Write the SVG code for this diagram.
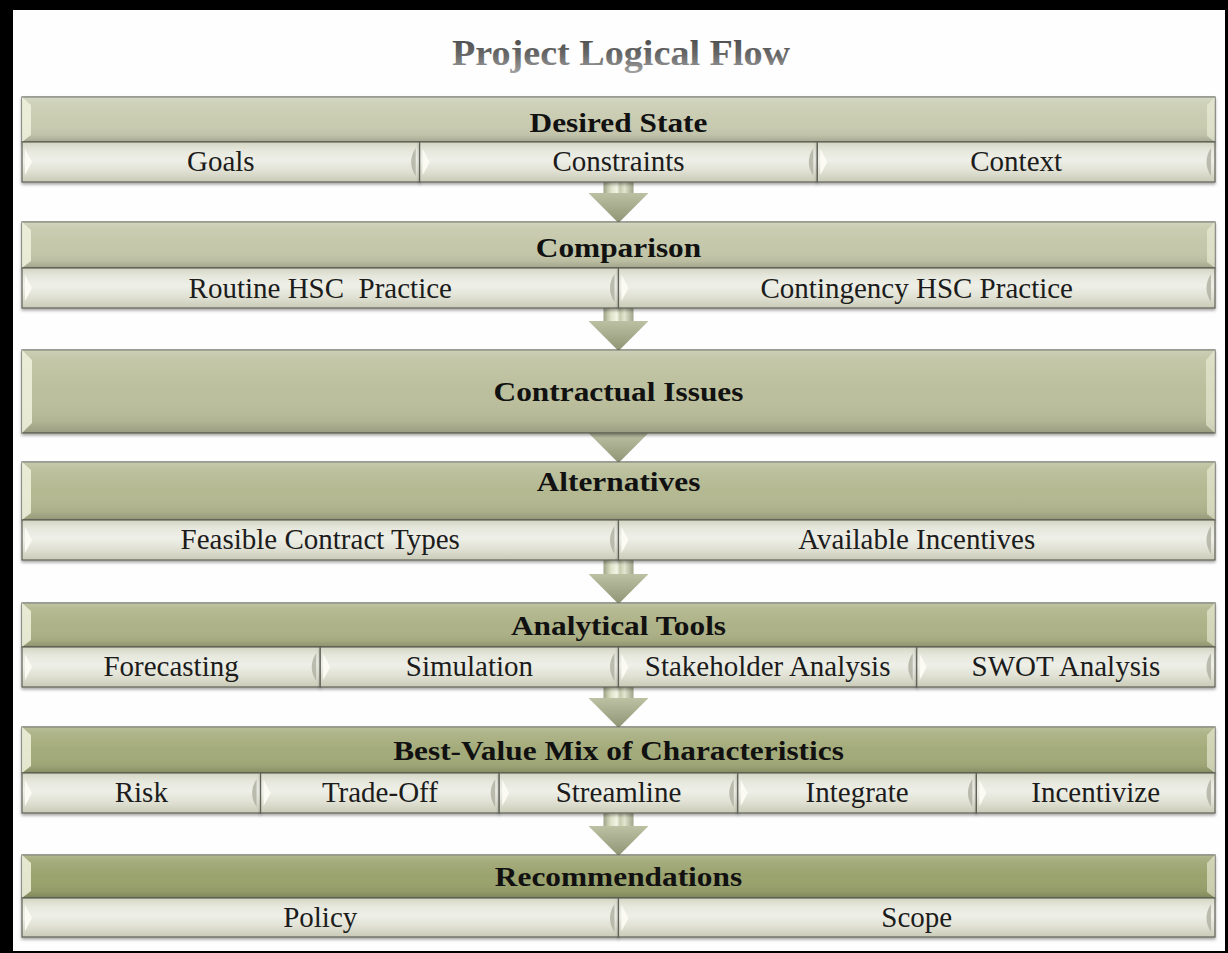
<svg xmlns="http://www.w3.org/2000/svg" xmlns:xlink="http://www.w3.org/1999/xlink" width="1228" height="953" viewBox="0 0 1228 953">
  <style>
    .hdr { stroke: #5e6255; stroke-width: 1.2; filter: url(#drop); }
    .shade { fill: url(#hdrShade); }
    .bev-l { fill: #f1f2de; opacity: 0.85; }
    .bev-r { fill: #eef0da; opacity: 0.6; }
    .cell { fill: url(#cellGrad); stroke: #5f6157; stroke-width: 1.2; filter: url(#drop); }
    .tri { fill: #fbfbf4; }
    .crs { fill: #a9ab9b; opacity: 0.75; }
    .hdr-t { font-family: "Liberation Serif", "Times New Roman", serif; font-weight: bold; font-size: 28px; fill: #111; text-anchor: middle; }
    .sub-t { font-family: "Liberation Serif", "Times New Roman", serif; font-size: 29px; fill: #1c1c1c; text-anchor: middle; }
    .title-t { font-family: "Liberation Serif", "Times New Roman", serif; font-weight: bold; font-size: 35px; fill: url(#titleGrad); text-anchor: middle; }
  </style>
  <defs>
    <filter id="drop" x="-5%" y="-20%" width="110%" height="150%">
      <feDropShadow dx="0" dy="2" stdDeviation="1.5" flood-color="#000" flood-opacity="0.35"/>
    </filter>
    <linearGradient id="hdrShade" x1="0" y1="0" x2="0" y2="1">
      <stop offset="0" stop-color="#fff" stop-opacity="0.25"/>
      <stop offset="0.12" stop-color="#fff" stop-opacity="0.12"/>
      <stop offset="0.5" stop-color="#fff" stop-opacity="0"/>
      <stop offset="0.85" stop-color="#000" stop-opacity="0.05"/>
      <stop offset="1" stop-color="#000" stop-opacity="0.18"/>
    </linearGradient>
    <linearGradient id="cellGrad" x1="0" y1="0" x2="0" y2="1">
      <stop offset="0" stop-color="#d3d5c2"/>
      <stop offset="0.2" stop-color="#e6e7dc"/>
      <stop offset="0.45" stop-color="#eeefe7"/>
      <stop offset="0.7" stop-color="#e2e3d6"/>
      <stop offset="1" stop-color="#c9cbb7"/>
    </linearGradient>
    <linearGradient id="shaftGrad" x1="0" y1="0" x2="1" y2="0">
      <stop offset="0" stop-color="#9da287"/>
      <stop offset="0.25" stop-color="#dfe3c8"/>
      <stop offset="0.45" stop-color="#f3f5e6"/>
      <stop offset="0.55" stop-color="#c6cbad"/>
      <stop offset="0.7" stop-color="#e2e6cf"/>
      <stop offset="1" stop-color="#9da287"/>
    </linearGradient>
    <linearGradient id="headGrad" x1="0" y1="0" x2="0" y2="1">
      <stop offset="0" stop-color="#bcc1a3"/>
      <stop offset="1" stop-color="#8e9474"/>
    </linearGradient>
    <linearGradient id="titleGrad" x1="0" y1="0" x2="0" y2="1">
      <stop offset="0" stop-color="#454545"/>
      <stop offset="0.55" stop-color="#696969"/>
      <stop offset="1" stop-color="#a0a0a0"/>
    </linearGradient>
    <!-- down arrow, tip at the origin -->
    <g id="arrow">
      <rect x="-15" y="-52" width="30" height="23" fill="url(#shaftGrad)"/>
      <path d="M-30 -30 L30 -30 L0 0 Z" fill="url(#headGrad)"/>
    </g>
    <!-- bevel marks of a 40px-high cell -->
    <path id="tri" class="tri" d="M3 7 L10 20 L3 33 Z"/>
    <path id="crs" class="crs" d="M-4 6 Q-13 20 -4 34 Z"/>
  </defs>

  <!-- frame -->
  <rect width="1228" height="953" fill="#000"/>
  <rect x="13" y="10" width="1212" height="941" fill="#fefefe"/>

  <g id="title">
    <text class="title-t" transform="translate(621 65) scale(1.09 1)">Project Logical Flow</text>
  </g>

  <g id="connectors">
    <use xlink:href="#arrow" x="618.5" y="223"/>
    <use xlink:href="#arrow" x="618.5" y="351"/>
    <use xlink:href="#arrow" x="618.5" y="463"/>
    <use xlink:href="#arrow" x="618.5" y="604"/>
    <use xlink:href="#arrow" x="618.5" y="728"/>
    <use xlink:href="#arrow" x="618.5" y="856"/>
  </g>

  <g id="desired-state">
    <rect class="hdr" x="22" y="97" width="1193" height="45" fill="#c9ccb1"/>
    <rect class="shade" x="22" y="97" width="1193" height="45"/>
    <path class="bev-l" d="M22 97 L31 105 L31 135 L22 142 Z"/>
    <path class="bev-r" d="M1215 97 L1207 105 L1207 136 L1215 142 Z"/>
    <text class="hdr-t" transform="translate(618.5 132) scale(1.12 1)">Desired State</text>
    <rect class="cell" x="22" y="142" width="397.67" height="40"/>
    <rect class="cell" x="419.67" y="142" width="397.66" height="40"/>
    <rect class="cell" x="817.33" y="142" width="397.67" height="40"/>
    <use xlink:href="#tri" x="22" y="142"/>
    <use xlink:href="#tri" x="419.67" y="142"/>
    <use xlink:href="#tri" x="817.33" y="142"/>
    <use xlink:href="#crs" x="419.67" y="142"/>
    <use xlink:href="#crs" x="817.33" y="142"/>
    <use xlink:href="#crs" x="1215" y="142"/>
    <text class="sub-t" x="220.8" y="171">Goals</text>
    <text class="sub-t" x="618.5" y="171">Constraints</text>
    <text class="sub-t" x="1016.2" y="171">Context</text>
  </g>

  <g id="comparison">
    <rect class="hdr" x="22" y="222" width="1193" height="46" fill="#c4c7a9"/>
    <rect class="shade" x="22" y="222" width="1193" height="46"/>
    <path class="bev-l" d="M22 222 L31 230 L31 261 L22 268 Z"/>
    <path class="bev-r" d="M1215 222 L1207 230 L1207 262 L1215 268 Z"/>
    <text class="hdr-t" transform="translate(618.5 257) scale(1.12 1)">Comparison</text>
    <rect class="cell" x="22" y="268" width="596.5" height="40"/>
    <rect class="cell" x="618.5" y="268" width="596.5" height="40"/>
    <use xlink:href="#tri" x="22" y="268"/>
    <use xlink:href="#tri" x="618.5" y="268"/>
    <use xlink:href="#crs" x="618.5" y="268"/>
    <use xlink:href="#crs" x="1215" y="268"/>
    <text class="sub-t" x="320.25" y="297.5" xml:space="preserve">Routine HSC  Practice</text>
    <text class="sub-t" x="916.75" y="297.5">Contingency HSC Practice</text>
  </g>

  <g id="contractual-issues">
    <rect class="hdr" x="22" y="350" width="1193" height="83" fill="#bbbf9c"/>
    <rect class="shade" x="22" y="350" width="1193" height="83"/>
    <path class="bev-l" d="M22 350 L32 360 L32 423 L22 433 Z"/>
    <path class="bev-r" d="M1215 350 L1206 360 L1206 425 L1215 433 Z"/>
    <text class="hdr-t" transform="translate(618.5 401) scale(1.12 1)">Contractual Issues</text>
  </g>

  <g id="alternatives">
    <rect class="hdr" x="22" y="462" width="1193" height="58" fill="#b4b992"/>
    <rect class="shade" x="22" y="462" width="1193" height="58"/>
    <path class="bev-l" d="M22 462 L31 470 L31 513 L22 520 Z"/>
    <path class="bev-r" d="M1215 462 L1207 470 L1207 514 L1215 520 Z"/>
    <text class="hdr-t" transform="translate(618.5 491) scale(1.12 1)">Alternatives</text>
    <rect class="cell" x="22" y="520" width="596.5" height="40"/>
    <rect class="cell" x="618.5" y="520" width="596.5" height="40"/>
    <use xlink:href="#tri" x="22" y="520"/>
    <use xlink:href="#tri" x="618.5" y="520"/>
    <use xlink:href="#crs" x="618.5" y="520"/>
    <use xlink:href="#crs" x="1215" y="520"/>
    <text class="sub-t" x="320.25" y="549">Feasible Contract Types</text>
    <text class="sub-t" x="916.75" y="549">Available Incentives</text>
  </g>

  <g id="analytical-tools">
    <rect class="hdr" x="22" y="603" width="1193" height="44" fill="#adb287"/>
    <rect class="shade" x="22" y="603" width="1193" height="44"/>
    <path class="bev-l" d="M22 603 L31 611 L31 640 L22 647 Z"/>
    <path class="bev-r" d="M1215 603 L1207 611 L1207 641 L1215 647 Z"/>
    <text class="hdr-t" transform="translate(618.5 634.5) scale(1.12 1)">Analytical Tools</text>
    <rect class="cell" x="22" y="647" width="298.25" height="40"/>
    <rect class="cell" x="320.25" y="647" width="298.25" height="40"/>
    <rect class="cell" x="618.5" y="647" width="298.25" height="40"/>
    <rect class="cell" x="916.75" y="647" width="298.25" height="40"/>
    <use xlink:href="#tri" x="22" y="647"/>
    <use xlink:href="#tri" x="320.25" y="647"/>
    <use xlink:href="#tri" x="618.5" y="647"/>
    <use xlink:href="#tri" x="916.75" y="647"/>
    <use xlink:href="#crs" x="320.25" y="647"/>
    <use xlink:href="#crs" x="618.5" y="647"/>
    <use xlink:href="#crs" x="916.75" y="647"/>
    <use xlink:href="#crs" x="1215" y="647"/>
    <text class="sub-t" x="171.1" y="676">Forecasting</text>
    <text class="sub-t" x="469.4" y="676">Simulation</text>
    <text class="sub-t" x="767.6" y="676">Stakeholder Analysis</text>
    <text class="sub-t" x="1065.9" y="676">SWOT Analysis</text>
  </g>

  <g id="best-value-mix">
    <rect class="hdr" x="22" y="727" width="1193" height="46" fill="#a4ab7a"/>
    <rect class="shade" x="22" y="727" width="1193" height="46"/>
    <path class="bev-l" d="M22 727 L31 735 L31 766 L22 773 Z"/>
    <path class="bev-r" d="M1215 727 L1207 735 L1207 767 L1215 773 Z"/>
    <text class="hdr-t" transform="translate(618.5 759.5) scale(1.12 1)">Best-Value Mix of Characteristics</text>
    <rect class="cell" x="22" y="773" width="238.6" height="40"/>
    <rect class="cell" x="260.6" y="773" width="238.6" height="40"/>
    <rect class="cell" x="499.2" y="773" width="238.6" height="40"/>
    <rect class="cell" x="737.8" y="773" width="238.6" height="40"/>
    <rect class="cell" x="976.4" y="773" width="238.6" height="40"/>
    <use xlink:href="#tri" x="22" y="773"/>
    <use xlink:href="#tri" x="260.6" y="773"/>
    <use xlink:href="#tri" x="499.2" y="773"/>
    <use xlink:href="#tri" x="737.8" y="773"/>
    <use xlink:href="#tri" x="976.4" y="773"/>
    <use xlink:href="#crs" x="260.6" y="773"/>
    <use xlink:href="#crs" x="499.2" y="773"/>
    <use xlink:href="#crs" x="737.8" y="773"/>
    <use xlink:href="#crs" x="976.4" y="773"/>
    <use xlink:href="#crs" x="1215" y="773"/>
    <text class="sub-t" x="141.3" y="802">Risk</text>
    <text class="sub-t" x="379.9" y="802">Trade-Off</text>
    <text class="sub-t" x="618.5" y="802">Streamline</text>
    <text class="sub-t" x="857.1" y="802">Integrate</text>
    <text class="sub-t" x="1095.7" y="802">Incentivize</text>
  </g>

  <g id="recommendations">
    <rect class="hdr" x="22" y="855" width="1193" height="43" fill="#9aa26d"/>
    <rect class="shade" x="22" y="855" width="1193" height="43"/>
    <path class="bev-l" d="M22 855 L31 863 L31 891 L22 898 Z"/>
    <path class="bev-r" d="M1215 855 L1207 863 L1207 892 L1215 898 Z"/>
    <text class="hdr-t" transform="translate(618.5 886) scale(1.12 1)">Recommendations</text>
    <rect class="cell" x="22" y="898" width="596.5" height="39"/>
    <rect class="cell" x="618.5" y="898" width="596.5" height="39"/>
    <use xlink:href="#tri" x="22" y="898"/>
    <use xlink:href="#tri" x="618.5" y="898"/>
    <use xlink:href="#crs" x="618.5" y="898"/>
    <use xlink:href="#crs" x="1215" y="898"/>
    <text class="sub-t" x="320.25" y="926.5">Policy</text>
    <text class="sub-t" x="916.75" y="926.5">Scope</text>
  </g>
</svg>
